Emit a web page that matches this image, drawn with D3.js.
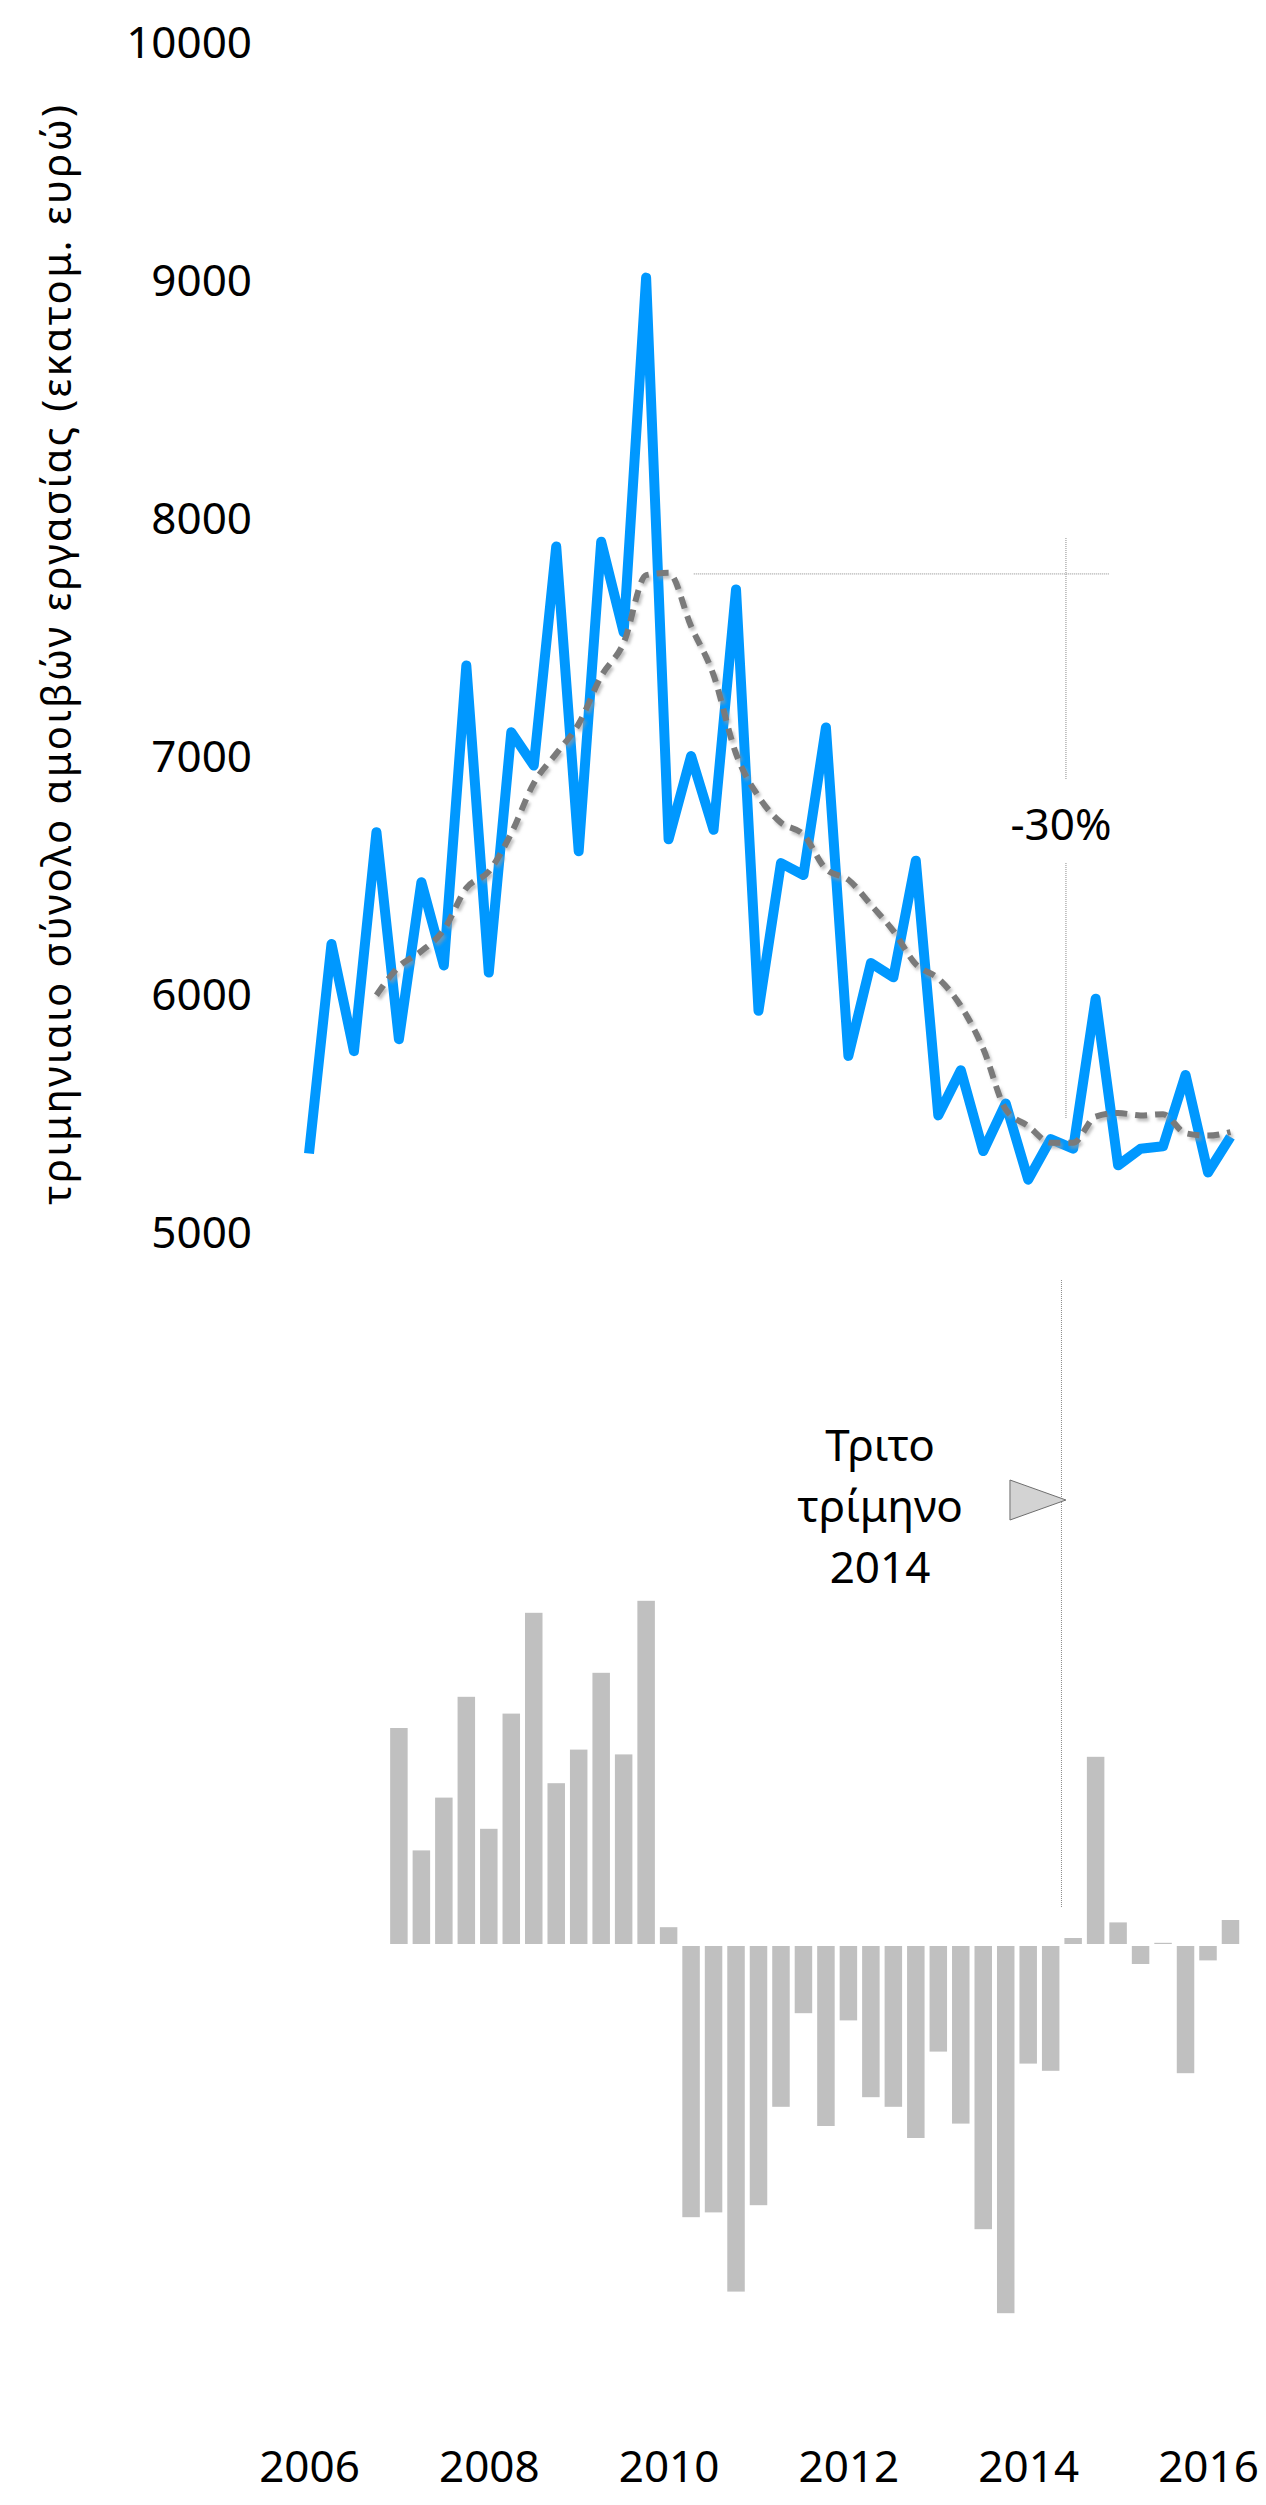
<!DOCTYPE html>
<meta charset="utf-8">
<script src="https://d3js.org/d3.v7.min.js"></script>
<style>
    body {
        margin: 0;
        padding: 0;
        background: #fff;
    }
    svg text {
        font-family: 'Noto Sans', 'DejaVu Sans', sans-serif;
        fill: #000;
    }
</style>
<body>
<svg width="1266" height="2505"></svg>
<script>
    // quarters shown on the line chart
    var quarters = [
        "2006Q1", "2006Q2", "2006Q3", "2006Q4",
        "2007Q1", "2007Q2", "2007Q3", "2007Q4",
        "2008Q1", "2008Q2", "2008Q3", "2008Q4",
        "2009Q1", "2009Q2", "2009Q3", "2009Q4",
        "2010Q1", "2010Q2", "2010Q3", "2010Q4",
        "2011Q1", "2011Q2", "2011Q3", "2011Q4",
        "2012Q1", "2012Q2", "2012Q3", "2012Q4",
        "2013Q1", "2013Q2", "2013Q3", "2013Q4",
        "2014Q1", "2014Q2", "2014Q3", "2014Q4",
        "2015Q1", "2015Q2", "2015Q3", "2015Q4",
        "2016Q1", "2016Q2"];

    // quarterly compensation of employees (million euro)
    var compensation = [
        5330, 6210, 5760, 6680,
        5810, 6470, 6120, 7380,
        6090, 7100, 6960, 7880,
        6600, 7900, 7520, 9010,
        6650, 7000, 6690, 7700,
        5930, 6550, 6500, 7120,
        5740, 6130, 6070, 6560,
        5490, 5680, 5340, 5540,
        5220, 5390, 5350, 5980,
        5280, 5350, 5360, 5660,
        5250, 5400];

    // dashed trend line, starts at 2006Q4
    var trendStart = "2006Q4";
    var trend = [
        5995, 6115, 6180, 6270, 6445, 6515, 6675, 6885, 7010, 7135,
        7335, 7475, 7760, 7770, 7545, 7340, 7010, 6830, 6720, 6670,
        6525, 6480, 6375, 6265, 6125, 6065, 5950, 5770, 5515, 5445,
        5375, 5375, 5485, 5500, 5490, 5495, 5415, 5405, 5420];

    // yearly change (%) bars, start at 2007Q1
    var changeStart = "2007Q1";
    var change = [
        9.0, 3.9, 6.1, 10.3, 4.8, 9.6, 13.8, 6.7, 8.1, 11.3,
        7.9, 14.3, 0.7, -11.3, -11.1, -14.4, -10.8, -6.7, -2.8, -7.5,
        -3.1, -6.3, -6.7, -8.0, -4.4, -7.4, -11.8, -15.3, -4.9, -5.2,
        0.25, 7.8, 0.9, -0.75, 0.05, -5.3, -0.6, 1.0];

    var yTicks = [5000, 6000, 7000, 8000, 9000, 10000];
    var yearTicks = [2006, 2008, 2010, 2012, 2014, 2016];
    var yTitle = "τριμηνιαιο σύνολο αμοιβών εργασίας (εκατομ. ευρώ)";
    var dropLabel = "-30%";
    var markerLines = ["Τριτο", "τρίμηνο", "2014"];

    function toTime(q) {
        return +q.slice(0, 4) + (+q.slice(5) - 1) / 4;
    }
    var startIdx = quarters.indexOf(trendStart);
    var changeIdx = quarters.indexOf(changeStart);

    var lineData = quarters.map(function (q, i) { return { t: toTime(q), v: compensation[i] }; });
    var trendData = trend.map(function (v, i) { return { t: toTime(quarters[startIdx + i]), v: v }; });
    var barData = change.map(function (v, i) { return { t: toTime(quarters[changeIdx + i]), v: v }; });

    var svg = d3.select("svg");

    // scales
    var x = d3.scaleLinear().domain([2006, 2016]).range([309, 1208]);
    var y = d3.scaleLinear().domain([5000, 10000]).range([1232, 42]);
    var yBar = d3.scaleLinear().domain([-16, 16]).range([1944 + 384, 1944 - 384]);
    var barW = 17.5;

    // shadow for trend line
    var defs = svg.append("defs");
    var f = defs.append("filter").attr("id", "shadow")
        .attr("x", "-10%").attr("y", "-10%").attr("width", "120%").attr("height", "120%");
    f.append("feDropShadow")
        .attr("dx", 2).attr("dy", 3).attr("stdDeviation", 1.8)
        .attr("flood-color", "#999").attr("flood-opacity", 0.6);

    // y axis
    var yAxis = svg.append("g")
        .attr("transform", "translate(252,0)")
        .call(d3.axisLeft(y).tickValues(yTicks).tickSize(0).tickPadding(0).tickFormat(d3.format("d")));
    yAxis.select(".domain").remove();
    yAxis.selectAll("text")
        .attr("dy", "0.35em")
        .style("font-size", "44px")
        .style("font-family", "'Noto Sans', sans-serif")
        .attr("fill", "#000");

    // y title
    svg.append("text")
        .attr("transform", "rotate(-90)")
        .attr("x", -655)
        .attr("y", 71)
        .attr("text-anchor", "middle")
        .attr("textLength", 1100)
        .attr("lengthAdjust", "spacing")
        .style("font-size", "40px")
        .text(yTitle);

    // x axis
    var xAxis = svg.append("g")
        .attr("transform", "translate(0,2451)")
        .call(d3.axisBottom(x).tickValues(yearTicks).tickSize(0).tickPadding(0).tickFormat(d3.format("d")));
    xAxis.select(".domain").remove();
    xAxis.selectAll("text")
        .style("font-size", "44px")
        .style("font-family", "'Noto Sans', sans-serif")
        .attr("fill", "#000");

    // annotation: peak reference and -30% drop
    var ann = svg.append("g")
        .attr("stroke", "#8a8a8a")
        .attr("stroke-width", 1)
        .attr("stroke-dasharray", "1,1")
        .attr("fill", "none");
    ann.append("line")
        .attr("x1", x(2010.28)).attr("x2", x(2014.9))
        .attr("y1", y(7765)).attr("y2", y(7765));
    ann.append("line")
        .attr("x1", x(2014.42)).attr("x2", x(2014.42))
        .attr("y1", 538).attr("y2", 780);
    ann.append("line")
        .attr("x1", x(2014.42)).attr("x2", x(2014.42))
        .attr("y1", 863).attr("y2", 1119);
    ann.append("line")
        .attr("x1", x(2014.37)).attr("x2", x(2014.37))
        .attr("y1", 1280).attr("y2", 1908);

    svg.append("text")
        .attr("x", 1061)
        .attr("y", 840)
        .attr("text-anchor", "middle")
        .style("font-size", "44px")
        .text(dropLabel);

    // marker triangle + label
    var tipX = x(2014.42);
    svg.append("path")
        .attr("d", "M" + (tipX - 56) + ",1480L" + (tipX - 56) + ",1520L" + tipX + ",1500Z")
        .attr("fill", "#d3d3d3")
        .attr("stroke", "#6e6e6e")
        .attr("stroke-width", 1);

    svg.append("g").selectAll("text")
        .data(markerLines)
        .enter()
        .append("text")
        .attr("x", 880)
        .attr("y", function (d, i) { return 1461 + i * 61; })
        .attr("text-anchor", "middle")
        .style("font-size", "44px")
        .text(function (d) { return d; });

    // bars
    svg.append("g").selectAll("rect")
        .data(barData)
        .enter()
        .append("rect")
        .attr("x", function (d) { return x(d.t) - barW / 2; })
        .attr("y", function (d) { return d.v >= 0 ? yBar(d.v) : yBar(0) + 2; })
        .attr("width", barW)
        .attr("height", function (d) { return Math.max(1, Math.abs(yBar(d.v) - yBar(0))); })
        .attr("fill", "#c0c0c0");

    // blue line
    var line = d3.line()
        .x(function (d) { return x(d.t); })
        .y(function (d) { return y(d.v); });

    svg.append("path")
        .datum(lineData)
        .attr("d", line)
        .attr("fill", "none")
        .attr("stroke", "#0098ff")
        .attr("stroke-width", 10)
        .attr("stroke-linejoin", "round")
        .attr("stroke-linecap", "butt");

    // dashed trend
    var trendLine = d3.line()
        .curve(d3.curveMonotoneX)
        .x(function (d) { return x(d.t); })
        .y(function (d) { return y(d.v); });

    svg.append("path")
        .datum(trendData)
        .attr("d", trendLine)
        .attr("fill", "none")
        .attr("stroke", "#7a7a7a")
        .attr("stroke-width", 6)
        .attr("stroke-dasharray", "12,8")
        .attr("filter", "url(#shadow)");
</script>
</body>
